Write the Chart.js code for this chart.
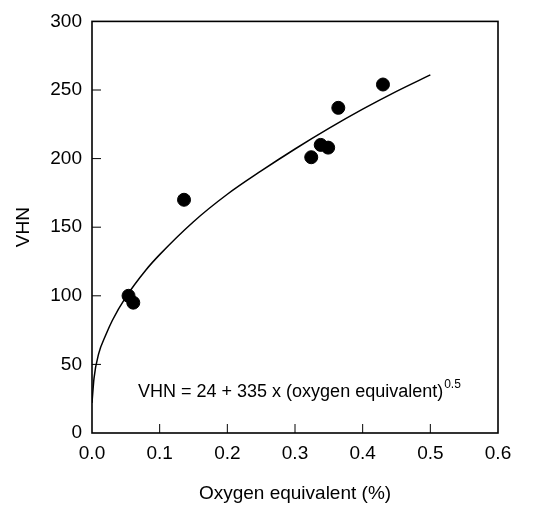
<!DOCTYPE html>
<html>
<head>
<meta charset="utf-8">
<script src="https://cdn.jsdelivr.net/npm/chart.js@4/dist/chart.umd.min.js"></script>
<style>
  body { margin: 0; background: #fff; }
  #wrap { width: 534px; height: 508px; }
</style>
</head>
<body>
<div id="wrap"><canvas id="ScatterChart"></canvas></div>
<script>
// measured points
const oxygenEq = [0.054, 0.061, 0.136, 0.324, 0.338, 0.349, 0.364, 0.430];
const vhn = [100, 95, 170, 201, 210, 208, 237, 254];

// fitted curve
const fitX = [0.0, 0.003, 0.01, 0.02, 0.03, 0.05, 0.08, 0.1, 0.15, 0.2, 0.25, 0.3, 0.35, 0.4, 0.45, 0.5];
const fitY = [22, 40, 58, 71, 82, 99, 119, 130, 154, 174, 191, 207, 222, 236, 249, 261];

const xTicks = [0.0, 0.1, 0.2, 0.3, 0.4, 0.5, 0.6];
const yTicks = [0, 50, 100, 150, 200, 250, 300];

const font = 'Liberation Sans, Arial, sans-serif';

// frame box + inward tick marks + equation text
const frameAndTicks = {
    id: 'frameAndTicks',
    afterDraw(chart) {
        const ctx = chart.ctx;
        const a = chart.chartArea;
        const xs = chart.scales.x;
        const ys = chart.scales.y;
        ctx.save();
        ctx.strokeStyle = '#000';
        ctx.lineWidth = 1.6;
        ctx.strokeRect(a.left, a.top, a.right - a.left, a.bottom - a.top);
        ctx.lineWidth = 1;
        xTicks.slice(1, -1).forEach(v => {
            const px = xs.getPixelForValue(v);
            ctx.beginPath();
            ctx.moveTo(px, a.bottom);
            ctx.lineTo(px, a.bottom - 9);
            ctx.stroke();
        });
        yTicks.slice(1, -1).forEach(v => {
            const py = ys.getPixelForValue(v);
            ctx.beginPath();
            ctx.moveTo(a.left, py);
            ctx.lineTo(a.left + 9, py);
            ctx.stroke();
        });
        // equation
        const tx = xs.getPixelForValue(0.068);
        const ty = ys.getPixelForValue(26);
        ctx.fillStyle = '#000';
        ctx.textBaseline = 'alphabetic';
        ctx.textAlign = 'left';
        ctx.font = '18px ' + font;
        const main = 'VHN = 24 + 335 x (oxygen equivalent)';
        ctx.fillText(main, tx, ty);
        const w = ctx.measureText(main).width;
        ctx.font = '12px ' + font;
        ctx.fillText('0.5', tx + w + 1, ty - 9);
        ctx.restore();
    }
};

const ctx = document.getElementById('ScatterChart').getContext('2d');
const ScatterChart = new Chart(ctx, {
    type: 'scatter',
    data: {
        datasets: [
            {
                label: 'fit',
                data: fitX.map((x, i) => ({ x: x, y: fitY[i] })),
                showLine: true,
                borderColor: '#000',
                borderWidth: 1.5,
                pointRadius: 0,
                cubicInterpolationMode: 'monotone',
                fill: false
            },
            {
                label: 'data',
                data: oxygenEq.map((x, i) => ({ x: x, y: vhn[i] })),
                backgroundColor: '#000',
                borderColor: '#000',
                pointRadius: 6.5,
                pointHoverRadius: 6.5
            }
        ]
    },
    options: {
        responsive: true,
        maintainAspectRatio: false,
        animation: false,
        plugins: {
            legend: { display: false },
            tooltip: { enabled: false }
        },
        layout: { padding: { left: 0, right: 36, top: 18, bottom: 0 } },
        scales: {
            x: {
                type: 'linear',
                min: 0,
                max: 0.6,
                afterBuildTicks: s => { s.ticks = xTicks.map(v => ({ value: v })); },
                afterFit: s => { s.height = 75; },
                grid: { display: false, drawTicks: false },
                border: { display: false },
                ticks: {
                    padding: 9,
                    color: '#000',
                    font: { family: font, size: 19 },
                    callback: v => v.toFixed(1)
                },
                title: {
                    display: true,
                    text: 'Oxygen equivalent (%)',
                    color: '#000',
                    font: { family: font, size: 19 },
                    padding: { top: 0, bottom: 3 }
                }
            },
            y: {
                min: 0,
                max: 300,
                afterBuildTicks: s => { s.ticks = yTicks.map(v => ({ value: v })); },
                afterFit: s => { s.width = 92; },
                grid: { display: false, drawTicks: false },
                border: { display: false },
                ticks: {
                    padding: 10,
                    color: '#000',
                    font: { family: font, size: 19 }
                },
                title: {
                    display: true,
                    text: 'VHN',
                    color: '#000',
                    font: { family: font, size: 19 },
                    padding: { top: 12, bottom: 0 }
                }
            }
        }
    },
    plugins: [frameAndTicks]
});
</script>
</body>
</html>
